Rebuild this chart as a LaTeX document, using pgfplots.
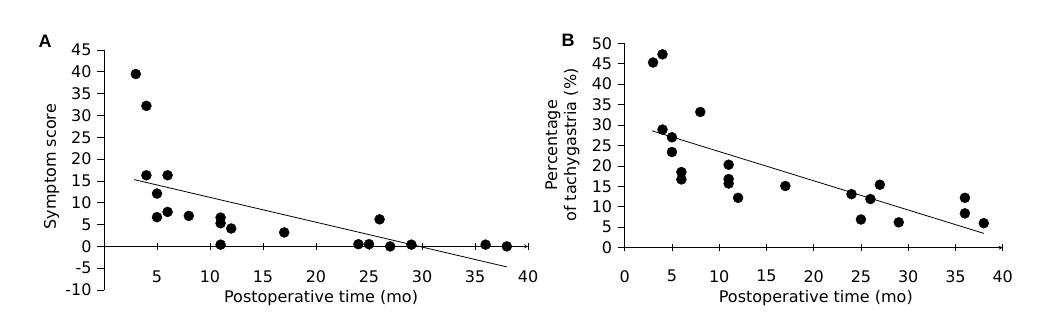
\documentclass[border=0pt]{standalone}
\usepackage{pgfplots}
\pgfplotsset{compat=1.18}
\usepackage{fontspec}
\setmainfont{DejaVu Sans}
\newfontfamily\panelfont{Liberation Sans}
\begin{document}
\fontsize{16}{19.5}\selectfont
\begin{tikzpicture}
\useasboundingbox (0pt,0pt) rectangle (1041pt,336pt);
\pgfplotsset{
  myax/.style={
    scale only axis,
    xmin=0, xmax=40,
    axis y line=left,
    x axis line style={-},
    y axis line style={-},
    tick align=outside,
    major tick length=7pt,
    tick style={black, line width=0.8pt},
    axis line style={black, line width=0.8pt},
    /pgf/number format/assume math mode=true,
    tick label style={font=\fontsize{16}{19}\selectfont},
    label style={font=\fontsize{16}{19}\selectfont},
    every y tick label/.append style={anchor=east},
  },
  dots/.style={only marks, mark=*, mark size=5pt, black},
  fit/.style={black, line width=0.8pt, no marks},
}
\begin{axis}[myax,
  at={(104pt,89.6pt)}, anchor=origin,
  width=424pt, height=240pt,
  ymin=-10, ymax=45,
  axis x line=middle,
  xtick={5,10,...,40},
  ytick={-10,-5,...,45},
  every x tick label/.append style={anchor=center, yshift=-26.5pt},
  xlabel={Postoperative time (mo)},
  ylabel={Symptom score},
  xlabel style={at={(axis description cs:0.512,-0.033)}, anchor=center},
  ylabel style={at={(axis description cs:-0.1234,0.514)}, anchor=center},
]
\addplot[dots] coordinates {
(3,39.5) (4,32.2) (4,16.3) (6,16.3) (5,12.1) (5,6.7) (6,7.9) (8,7.0)
(11,6.6) (11,5.3) (11,0.4) (12,4.1) (17,3.2) (24,0.5) (25,0.5) (26,6.2)
(27,0) (29,0.4) (36,0.4) (38,0)
};
\addplot[fit] coordinates {(2.85,15.3) (38,-4.7)};
\end{axis}
\begin{axis}[myax,
  at={(624.7pt,88.3pt)}, anchor=origin,
  width=378pt, height=204.4pt,
  ymin=0, ymax=50,
  axis x line=bottom,
  xtick={0,5,...,40},
  ytick={0,5,...,50},
  every x tick label/.append style={anchor=center, yshift=-25pt},
  xlabel={Postoperative time (mo)},
  ylabel={Percentage\\of tachygastria (\%)},
  xlabel style={at={(axis description cs:0.5056,-0.246)}, anchor=center},
  ylabel style={at={(axis description cs:-0.1648,0.502)}, anchor=center, align=center},
]
\addplot[dots] coordinates {
(3,45.3) (4,47.3) (4,28.9) (5,27.0) (5,23.4) (6,18.5) (6,16.7) (8,33.2)
(11,20.3) (11,16.8) (11,15.7) (12,12.2) (17,15.1) (24,13.1) (25,6.9)
(26,11.9) (27,15.4) (29,6.2) (36,12.2) (36,8.4) (38,6.0)
};
\addplot[fit] coordinates {(2.89,28.6) (38,3.5)};
\end{axis}
\node[font=\panelfont\bfseries\fontsize{18}{20}\selectfont] at (45pt,294.3pt) {A};
\node[font=\panelfont\bfseries\fontsize{18}{20}\selectfont] at (568pt,296pt) {B};
\end{tikzpicture}
\end{document}
